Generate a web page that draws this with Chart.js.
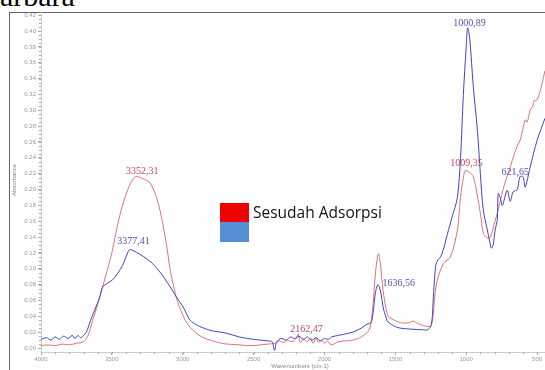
<!DOCTYPE html>
<html>
<head>
<meta charset="utf-8">
<script src="https://cdn.jsdelivr.net/npm/chart.js@4/dist/chart.umd.min.js"></script>
<style>
  body { margin: 0; background: #fff; overflow: hidden; }
  #wrap { position: relative; width: 545px; height: 370px; }
  #frame { position: absolute; left: 9px; top: 12px; width: 600px; height: 400px; border-left: 1px solid #666; border-top: 1px solid #666; }
  #cap { position: absolute; left: 0; top: -19px; font: 30px 'Liberation Serif', serif; line-height: 30px; color: #000; }
  #ytitle { position: absolute; left: 14px; top: 180px; font: 6px 'Liberation Sans', Arial, sans-serif; color: #888; transform: translate(-50%, -50%) rotate(-90deg); white-space: nowrap; }
  #xtitle { position: absolute; left: 300px; top: 366px; font: 6px 'Liberation Sans', Arial, sans-serif; color: #888; transform: translate(-50%, -50%); white-space: nowrap; }
  .box { position: absolute; left: 220px; width: 29px; height: 20px; }
  #lgtext { position: absolute; left: 253px; top: 201px; font: 15.5px 'Open Sans', 'Noto Sans', sans-serif; color: #111; white-space: nowrap; }
  canvas { position: absolute; left: 0; top: 0; }
</style>
</head>
<body>
<div id="wrap">
  <div id="cap">arbara</div>
  <div id="frame"></div>
  <canvas id="ftir" width="545" height="370"></canvas>
  <div id="ytitle">Absorbance</div>
  <div id="xtitle">Wavenumbers (cm-1)</div>
  <div class="box" style="top:203px;background:#f00000"></div>
  <div class="box" style="top:222px;background:#558ed5"></div>
  <div id="lgtext">Sesudah Adsorpsi</div>
</div>
<script>
// blue spectrum
const blueWn = [4000, 3960, 3930, 3900, 3870, 3840, 3810, 3780, 3760, 3740, 3720, 3700, 3680, 3650, 3621, 3586, 3565, 3530, 3495, 3460, 3425, 3400, 3376, 3350, 3300, 3250, 3215, 3180, 3144, 3110, 3074, 3040, 3004, 2975, 2948, 2900, 2864, 2800, 2700, 2600, 2500, 2400, 2370, 2352, 2340, 2320, 2300, 2270, 2240, 2210, 2180, 2150, 2120, 2090, 2060, 2030, 2000, 1970, 1950, 1900, 1850, 1800, 1741, 1700, 1671, 1657, 1640, 1625, 1615, 1600, 1587, 1565, 1552, 1500, 1461, 1400, 1300, 1272, 1245, 1230, 1215, 1201, 1180, 1160, 1131, 1100, 1062, 1040, 1020, 1000, 990, 975, 950, 921, 900, 880, 851, 835, 823, 810, 795, 781, 774, 760, 745, 711, 690, 669, 640, 621, 598, 584, 549, 500, 444];
const blueAbs = [0.011, 0.013, 0.010, 0.014, 0.011, 0.015, 0.012, 0.016, 0.012, 0.016, 0.013, 0.016, 0.020, 0.035, 0.048, 0.064, 0.077, 0.082, 0.086, 0.094, 0.104, 0.115, 0.124, 0.123, 0.118, 0.112, 0.107, 0.100, 0.092, 0.083, 0.073, 0.063, 0.054, 0.044, 0.035, 0.029, 0.026, 0.022, 0.019, 0.014, 0.011, 0.009, 0.008, -0.003, 0.006, 0.011, 0.012, 0.010, 0.014, 0.012, 0.015, 0.011, 0.014, 0.010, 0.013, 0.009, 0.012, 0.011, 0.014, 0.016, 0.018, 0.020, 0.025, 0.030, 0.032, 0.045, 0.070, 0.080, 0.078, 0.068, 0.052, 0.038, 0.033, 0.027, 0.025, 0.024, 0.023, 0.023, 0.030, 0.070, 0.104, 0.111, 0.115, 0.125, 0.145, 0.165, 0.190, 0.240, 0.320, 0.380, 0.404, 0.390, 0.330, 0.275, 0.220, 0.175, 0.149, 0.135, 0.126, 0.130, 0.150, 0.161, 0.195, 0.190, 0.180, 0.199, 0.185, 0.197, 0.200, 0.216, 0.216, 0.203, 0.228, 0.262, 0.290];

// red spectrum (Sesudah Adsorpsi)
const redWn = [4000, 3950, 3900, 3850, 3800, 3750, 3700, 3670, 3635, 3600, 3565, 3530, 3495, 3460, 3425, 3376, 3334, 3285, 3229, 3180, 3144, 3110, 3088, 3039, 2990, 2948, 2864, 2724, 2600, 2513, 2400, 2350, 2320, 2290, 2260, 2230, 2200, 2185, 2170, 2150, 2120, 2100, 2080, 2060, 2040, 2020, 2000, 1980, 1952, 1900, 1800, 1741, 1685, 1660, 1640, 1620, 1605, 1587, 1560, 1545, 1461, 1400, 1377, 1340, 1300, 1250, 1235, 1209, 1160, 1111, 1062, 1040, 1020, 1006, 980, 949, 900, 879, 851, 830, 800, 781, 740, 720, 690, 660, 640, 620, 598, 584, 570, 549, 530, 520, 500, 470, 444];
const redAbs = [0.003, 0.004, 0.003, 0.005, 0.004, 0.006, 0.008, 0.015, 0.035, 0.055, 0.077, 0.100, 0.124, 0.155, 0.180, 0.205, 0.216, 0.214, 0.208, 0.187, 0.160, 0.125, 0.098, 0.060, 0.038, 0.026, 0.014, 0.006, 0.004, 0.003, 0.005, 0.006, 0.009, 0.007, 0.010, 0.008, 0.012, 0.018, 0.007, 0.011, 0.008, 0.013, 0.006, 0.012, 0.007, 0.010, 0.006, 0.009, 0.004, 0.008, 0.010, 0.014, 0.023, 0.050, 0.095, 0.119, 0.105, 0.073, 0.045, 0.039, 0.032, 0.032, 0.034, 0.031, 0.028, 0.028, 0.040, 0.082, 0.107, 0.115, 0.149, 0.190, 0.215, 0.224, 0.222, 0.216, 0.170, 0.145, 0.139, 0.140, 0.158, 0.170, 0.200, 0.212, 0.228, 0.245, 0.255, 0.262, 0.278, 0.288, 0.285, 0.300, 0.305, 0.312, 0.313, 0.330, 0.350];

const xTicks = [4000, 3500, 3000, 2500, 2000, 1500, 1000, 500];
const yTicks = [0.00, 0.02, 0.04, 0.06, 0.08, 0.10, 0.12, 0.14, 0.16, 0.18, 0.20, 0.22, 0.24, 0.26, 0.28, 0.30, 0.32, 0.34, 0.36, 0.38, 0.40, 0.42];

// peak labels: text, wavenumber, absorbance, series
const peakText = ['3352,31', '3377,41', '1000,89', '1009,35', '621,65', '1636,56', '2162,47'];
const peakWn = [3285, 3348, 977, 998, 654, 1475, 2127];
const peakAbs = [0.223, 0.134, 0.410, 0.2335, 0.222, 0.082, 0.023];
const peakSeries = ['red', 'blue', 'blue', 'red', 'blue', 'blue', 'red'];

const RED = 'rgb(226,112,118)';
const BLUE = 'rgb(66,66,200)';
const labelColor = { red: 'rgb(200,70,90)', blue: 'rgb(80,80,180)' };

const toXY = (wn, ab) => wn.map((w, i) => ({ x: w, y: ab[i] }));

const extras = {
    id: 'extras',
    afterDraw(c) {
        const g = c.ctx, xs = c.scales.x, ys = c.scales.y;
        g.save();
        // minor ticks
        g.strokeStyle = '#aaa';
        g.lineWidth = 1;
        g.beginPath();
        for (let v = 4000; v >= 500; v -= 100) {
            const px = Math.round(xs.getPixelForValue(v)) + 0.5;
            g.moveTo(px, xs.top); g.lineTo(px, xs.top + 2);
        }
        for (let v = 0; v <= 0.4201; v += 0.005) {
            const py = Math.round(ys.getPixelForValue(v)) + 0.5;
            g.moveTo(ys.right - 2, py); g.lineTo(ys.right, py);
        }
        g.stroke();
        // peak labels
        g.font = '10px "Liberation Serif", serif';
        g.textAlign = 'center';
        g.textBaseline = 'middle';
        peakText.forEach((t, i) => {
            g.fillStyle = labelColor[peakSeries[i]];
            g.fillText(t, xs.getPixelForValue(peakWn[i]), ys.getPixelForValue(peakAbs[i]));
        });
        g.restore();
    }
};

const ctx = document.getElementById('ftir').getContext('2d');
const chart = new Chart(ctx, {
    type: 'line',
    data: {
        datasets: [{
            label: 'Sebelum',
            data: toXY(blueWn, blueAbs),
            borderColor: BLUE,
            borderWidth: 1,
            pointRadius: 0,
            tension: 0.3
        }, {
            label: 'Sesudah Adsorpsi',
            data: toXY(redWn, redAbs),
            borderColor: RED,
            borderWidth: 1,
            pointRadius: 0,
            tension: 0.3
        }]
    },
    options: {
        responsive: false,
        animation: false,
        devicePixelRatio: 1,
        layout: { padding: { top: 12, left: 0, right: 0, bottom: 0 } },
        plugins: { legend: { display: false }, tooltip: { enabled: false } },
        scales: {
            x: {
                type: 'linear',
                reverse: true,
                min: 444,
                max: 4000,
                afterBuildTicks: s => { s.ticks = xTicks.map(v => ({ value: v })); },
                afterFit: s => { s.height = 18; },
                ticks: { font: { size: 6, family: 'Liberation Sans' }, color: '#999', padding: 1, maxRotation: 0, autoSkip: false, callback: v => String(v) },
                grid: { display: true, drawOnChartArea: false, drawTicks: true, tickLength: 3, color: '#aaa' },
                border: { display: true, color: '#ccc' }
            },
            y: {
                min: -0.005,
                max: 0.424,
                afterBuildTicks: s => { s.ticks = yTicks.map(v => ({ value: v })); },
                afterFit: s => { s.width = 41; },
                ticks: { font: { size: 6, family: 'Liberation Sans' }, color: '#999', padding: 2, autoSkip: false, callback: v => v.toFixed(2) },
                grid: { display: true, drawOnChartArea: false, drawTicks: true, tickLength: 3, color: '#aaa' },
                border: { display: true, color: '#ccc' }
            }
        }
    },
    plugins: [extras]
});
</script>
</body>
</html>
